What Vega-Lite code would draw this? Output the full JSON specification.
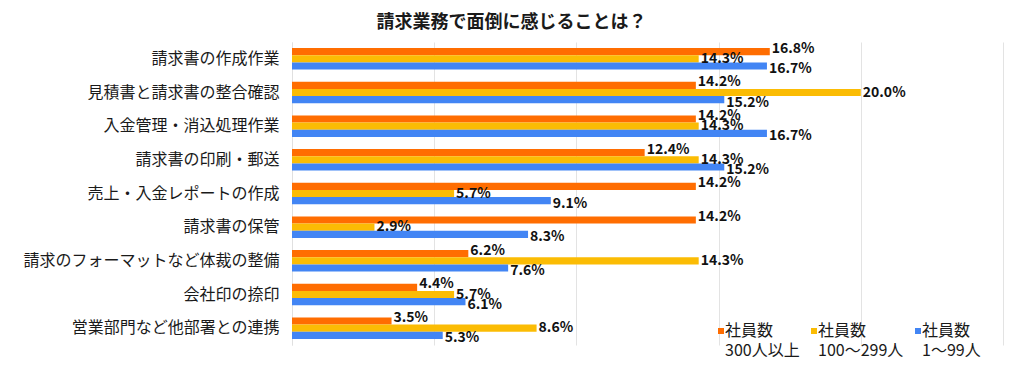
{
  "$schema": "https://vega.github.io/schema/vega-lite/v6.json",
  "autosize": "none",
  "width": 711,
  "height": 303,
  "padding": {"left": 292, "top": 42, "right": 21, "bottom": 27},
  "background": "white",
  "config": {
    "font": "Noto Sans CJK JP",
    "view": {"stroke": null}
  },
  "title": {
    "text": "請求業務で面倒に感じることは？",
    "anchor": "middle",
    "frame": "group",
    "dx": -136,
    "fontSize": 18,
    "fontWeight": "bold",
    "color": "#1a1a1a",
    "offset": 10
  },
  "data": {
    "values": [
      {"item": "請求書の作成作業", "group": "300人以上", "value": 16.8},
      {"item": "請求書の作成作業", "group": "100〜299人", "value": 14.3},
      {"item": "請求書の作成作業", "group": "1〜99人", "value": 16.7},
      {"item": "見積書と請求書の整合確認", "group": "300人以上", "value": 14.2},
      {"item": "見積書と請求書の整合確認", "group": "100〜299人", "value": 20.0},
      {"item": "見積書と請求書の整合確認", "group": "1〜99人", "value": 15.2},
      {"item": "入金管理・消込処理作業", "group": "300人以上", "value": 14.2},
      {"item": "入金管理・消込処理作業", "group": "100〜299人", "value": 14.3},
      {"item": "入金管理・消込処理作業", "group": "1〜99人", "value": 16.7},
      {"item": "請求書の印刷・郵送", "group": "300人以上", "value": 12.4},
      {"item": "請求書の印刷・郵送", "group": "100〜299人", "value": 14.3},
      {"item": "請求書の印刷・郵送", "group": "1〜99人", "value": 15.2},
      {"item": "売上・入金レポートの作成", "group": "300人以上", "value": 14.2},
      {"item": "売上・入金レポートの作成", "group": "100〜299人", "value": 5.7},
      {"item": "売上・入金レポートの作成", "group": "1〜99人", "value": 9.1},
      {"item": "請求書の保管", "group": "300人以上", "value": 14.2},
      {"item": "請求書の保管", "group": "100〜299人", "value": 2.9},
      {"item": "請求書の保管", "group": "1〜99人", "value": 8.3},
      {"item": "請求のフォーマットなど体裁の整備", "group": "300人以上", "value": 6.2},
      {"item": "請求のフォーマットなど体裁の整備", "group": "100〜299人", "value": 14.3},
      {"item": "請求のフォーマットなど体裁の整備", "group": "1〜99人", "value": 7.6},
      {"item": "会社印の捺印", "group": "300人以上", "value": 4.4},
      {"item": "会社印の捺印", "group": "100〜299人", "value": 5.7},
      {"item": "会社印の捺印", "group": "1〜99人", "value": 6.1},
      {"item": "営業部門など他部署との連携", "group": "300人以上", "value": 3.5},
      {"item": "営業部門など他部署との連携", "group": "100〜299人", "value": 8.6},
      {"item": "営業部門など他部署との連携", "group": "1〜99人", "value": 5.3}
    ]
  },
  "transform": [
    {"calculate": "format(datum.value, '.1f') + '%'", "as": "label"}
  ],
  "encoding": {
    "y": {
      "field": "item",
      "type": "nominal",
      "sort": null,
      "scale": {"paddingInner": 0.36, "paddingOuter": 0.18},
      "axis": {
        "title": null,
        "domain": true,
        "domainColor": "#e0e0e0",
        "ticks": false,
        "labelFontSize": 16,
        "labelColor": "#1a1a1a",
        "labelPadding": 13,
        "labelLimit": 400
      }
    },
    "yOffset": {
      "field": "group",
      "type": "nominal",
      "sort": ["300人以上", "100〜299人", "1〜99人"]
    },
    "x": {
      "field": "value",
      "type": "quantitative",
      "scale": {"domain": [0, 25], "nice": false},
      "axis": {
        "title": null,
        "labels": false,
        "ticks": false,
        "domain": false,
        "grid": true,
        "gridColor": "#e3e3e3",
        "values": [0, 5, 10, 15, 20, 25]
      }
    }
  },
  "layer": [
    {
      "mark": {"type": "bar"},
      "encoding": {
        "color": {
          "field": "group",
          "type": "nominal",
          "sort": ["300人以上", "100〜299人", "1〜99人"],
          "scale": {
            "domain": ["300人以上", "100〜299人", "1〜99人"],
            "range": ["#FF6D01", "#FBBC04", "#4285F4"]
          },
          "legend": {
            "orient": "none",
            "legendX": 421,
            "legendY": 281,
            "direction": "horizontal",
            "title": null,
            "symbolType": "square",
            "symbolSize": 36,
            "symbolStrokeWidth": 0,
            "labelFontSize": 16,
            "labelColor": "#1a1a1a",
            "labelBaseline": "middle",
            "labelExpr": "['社員数', datum.label]",
            "columnPadding": 6,
            "labelOffset": -4,
            "encode": {
              "labels": {"update": {"lineHeight": {"value": 20}}}
            }
          }
        }
      }
    },
    {
      "transform": [{"filter": "datum.group === '300人以上'"}],
      "mark": {"type": "text", "align": "left", "baseline": "middle", "dx": 2, "dy": -3, "fontSize": 14, "fontWeight": "bold", "color": "#111111"},
      "encoding": {"text": {"field": "label", "type": "nominal"}}
    },
    {
      "transform": [{"filter": "datum.group === '100〜299人'"}],
      "mark": {"type": "text", "align": "left", "baseline": "middle", "dx": 2, "dy": 0, "fontSize": 14, "fontWeight": "bold", "color": "#111111"},
      "encoding": {"text": {"field": "label", "type": "nominal"}}
    },
    {
      "transform": [{"filter": "datum.group === '1〜99人'"}],
      "mark": {"type": "text", "align": "left", "baseline": "middle", "dx": 2, "dy": 3, "fontSize": 14, "fontWeight": "bold", "color": "#111111"},
      "encoding": {"text": {"field": "label", "type": "nominal"}}
    }
  ]
}
